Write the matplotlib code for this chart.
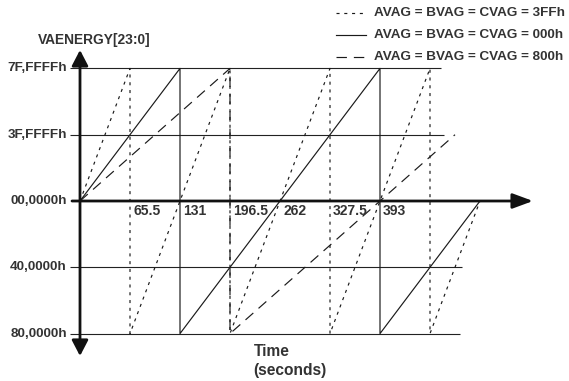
import matplotlib
matplotlib.use("Agg")
import matplotlib.pyplot as plt
from matplotlib.patches import FancyArrowPatch
from matplotlib.lines import Line2D

plt.rcParams['font.family'] = ['Liberation Sans', 'DejaVu Sans']
plt.rcParams['lines.scale_dashes'] = False

# ---------------- data ----------------
level_values = [2, 1, 0, -1, -2]
level_labels = ['7F,FFFFh', '3F,FFFFh', '00,0000h', '40,0000h', '80,0000h']
time_ticks = [65.5, 131, 196.5, 262, 327.5, 393]
time_labels = ['65.5', '131', '196.5', '262', '327.5', '393']

# AVAG = BVAG = CVAG = 3FFh (dotted)
t_3ff = [0, 65.5, 65.5, 196.5, 196.5, 327.5, 327.5, 458.5, 458.5, 524]
v_3ff = [0, 2, -2, 2, -2, 2, -2, 2, -2, 0]
# AVAG = BVAG = CVAG = 000h (solid)
t_000 = [0, 131, 131, 393, 393, 524]
v_000 = [0, 2, -2, 2, -2, 0]
# AVAG = BVAG = CVAG = 800h (dashed)
t_800 = [0, 196.5, 196.5, 491.25]
v_800 = [0, 2, -2, 1]

series_labels = ['AVAG = BVAG = CVAG = 3FFh',
                 'AVAG = BVAG = CVAG = 000h',
                 'AVAG = BVAG = CVAG = 800h']

# ---------------- layout ----------------
W, H = 569, 381
fig = plt.figure(figsize=(W / 100, H / 100), dpi=100)
ax = fig.add_axes([0, 0, 1, 1])
ax.axis('off')

X0PX, XSCALE = 80, 50 / 65.5      # pixel of t=0, pixels per second
Y0PX, YSCALE = 201, 66.3          # pixel of v=0, pixels per unit


def t_of(px):
    return (px - X0PX) / XSCALE


def v_of(py):
    return (Y0PX - py) / YSCALE


ax.set_xlim(t_of(0), t_of(W))
ax.set_ylim(v_of(H), v_of(0))

TXT = '#333333'
LC = '#1a1a1a'
FS = 9.7
lw = 0.85
dot_style = (0, (2.2, 3.4))
dash_style = (0, (7.5, 5.0))

# horizontal grid lines (zero level is the time axis)
grid_end_px = {2: 441, 1: 444, -1: 462, -2: 460}
for v in level_values:
    if v == 0:
        continue
    ax.plot([t_of(70), t_of(grid_end_px[v])], [v, v], color='#222222', lw=0.8,
            solid_capstyle='butt', zorder=1)

# series
ax.plot(t_3ff, v_3ff, color=LC, lw=lw, linestyle=dot_style, zorder=3)
ax.plot(t_000, v_000, color=LC, lw=lw, linestyle='-', zorder=3)
ax.plot(t_800, v_800, color=LC, lw=lw, linestyle=dash_style, zorder=3)

# axes with arrows
yarrow = FancyArrowPatch((0, v_of(356)), (0, v_of(50)), arrowstyle='<|-|>,head_length=5,head_width=2.6',
                         mutation_scale=1.9, lw=2.0, color='#111111', zorder=5,
                         shrinkA=0, shrinkB=0)
ax.add_patch(yarrow)
xarrow = FancyArrowPatch((t_of(72), 0), (t_of(533), 0), arrowstyle='-|>,head_length=6.5,head_width=2.4',
                         mutation_scale=1.9, lw=2.0, color='#111111', zorder=5,
                         shrinkA=0, shrinkB=0)
ax.add_patch(xarrow)

# y labels
for v, lab in zip(level_values, level_labels):
    ax.annotate(lab, xy=(0, v), xytext=(-13, 0), textcoords='offset pixels',
                ha='right', va='center', fontsize=FS, fontweight='bold', color=TXT)

# x labels
for t, lab in zip(time_ticks, time_labels):
    ax.annotate(lab, xy=(t, 0), xytext=(3, -10), textcoords='offset pixels',
                ha='left', va='center', fontsize=FS + 0.3, fontweight='bold', color=TXT)

# axis titles
fig.text(94 / W, 1 - 40 / H, 'VAENERGY[23:0]', ha='center', va='center',
         fontsize=FS + 0.2, fontweight='bold', color=TXT)
fig.text(254 / W, 1 - 351 / H, 'Time', ha='left', va='center',
         fontsize=11.2, fontweight='bold', color=TXT)
fig.text(253 / W, 1 - 370 / H, '(seconds)', ha='left', va='center',
         fontsize=11.2, fontweight='bold', color=TXT)

# legend (manual)
leg_rows = [13, 35, 57]
leg_styles = [dot_style, '-', dash_style]
for py, ls, lab in zip(leg_rows, leg_styles, series_labels):
    fig.add_artist(Line2D([336 / W, 366 / W], [1 - py / H, 1 - py / H], transform=fig.transFigure,
                          color=LC, lw=lw, linestyle=ls))
    fig.text(374 / W, 1 - py / H, lab, ha='left', va='center', fontsize=FS,
             fontweight='bold', color=TXT)

fig.savefig('out.png', dpi=100)
